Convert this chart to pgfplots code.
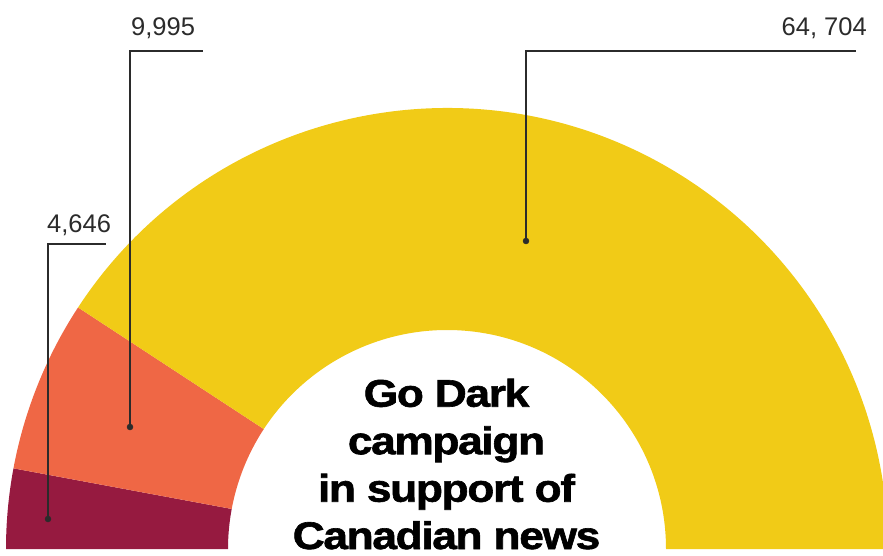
\documentclass[border=0pt]{standalone}
\usepackage{fontspec}
\setmainfont{Liberation Sans}
\newfontfamily\titlefont{Liberation Sans Bold}[FakeStretch=1.15, FakeBold=1.6, LetterSpace=-3.5]
\usepackage{pgfplots}
\pgfplotsset{compat=1.18}
\usepackage{pgfplotstable}
\definecolor{cMaroon}{HTML}{961A40}
\definecolor{cOrange}{HTML}{EF6745}
\definecolor{cYellow}{HTML}{F1CB17}
\definecolor{cLine}{HTML}{2B2B2B}

\pgfplotstableread{
label value
A 4646
B 9995
C 64704
}\datatable

\begin{document}
\begin{tikzpicture}
\pgfplotstablegetelem{0}{value}\of\datatable \let\va\pgfplotsretval
\pgfplotstablegetelem{1}{value}\of\datatable \let\vb\pgfplotsretval
\pgfplotstablegetelem{2}{value}\of\datatable \let\vc\pgfplotsretval
\pgfkeys{/pgf/fpu=true,/pgf/fpu/output format=fixed}
\pgfmathsetmacro\aA{180-180*\va/(\va+\vb+\vc)}
\pgfmathsetmacro\aB{\aA-180*\vb/(\va+\vb+\vc)}
\pgfkeys{/pgf/fpu=false}
\def\cx{447}\def\cy{6}\def\Ro{441}\def\Ri{219}
\begin{axis}[name=ax, x=1pt, y=1pt, xmin=0, xmax=883, ymin=0, ymax=555,
  hide axis, clip=false]
% wedges
\fill[cMaroon] (axis cs:{\cx-\Ro},\cy) arc[start angle=180, end angle=\aA, radius=\Ro pt]
  -- (axis cs:{\cx+\Ri*cos(\aA)},{\cy+\Ri*sin(\aA)}) arc[start angle=\aA, end angle=180, radius=\Ri pt] -- cycle;
\fill[cOrange] (axis cs:{\cx+\Ro*cos(\aA)},{\cy+\Ro*sin(\aA)}) arc[start angle=\aA, end angle=\aB, radius=\Ro pt]
  -- (axis cs:{\cx+\Ri*cos(\aB)},{\cy+\Ri*sin(\aB)}) arc[start angle=\aB, end angle=\aA, radius=\Ri pt] -- cycle;
\fill[cYellow] (axis cs:{\cx+\Ro*cos(\aB)},{\cy+\Ro*sin(\aB)}) arc[start angle=\aB, end angle=0, radius=\Ro pt]
  -- (axis cs:{\cx+\Ri},\cy) arc[start angle=0, end angle=\aB, radius=\Ri pt] -- cycle;
% leader lines
\addplot[cLine, line width=1.4pt, mark=none] coordinates {(48,36) (48,311) (106,311)};
\addplot[cLine, line width=1.4pt, mark=none] coordinates {(130,128) (130,504) (203,504)};
\addplot[cLine, line width=1.4pt, mark=none] coordinates {(526,314) (526,504) (856,504)};
\addplot[only marks, mark=*, mark size=3pt, cLine] coordinates {(48,36) (130,128) (526,314)};
% labels
\node[anchor=base west, inner sep=0pt, text=cLine, font=\fontsize{25.5}{30}\selectfont] at (axis cs:47,323) {4,646};
\node[anchor=base west, inner sep=0pt, text=cLine, font=\fontsize{25.5}{30}\selectfont] at (axis cs:131,519) {9,995};
\node[anchor=base east, inner sep=0pt, text=cLine, font=\fontsize{25.5}{30}\selectfont] at (axis cs:867,519) {64, 704};
% centre title
\node[anchor=base, inner sep=0pt, font=\titlefont\fontsize{38.5}{47.5}\selectfont] at (axis cs:446.5,148.3) {Go Dark};
\node[anchor=base, inner sep=0pt, font=\titlefont\fontsize{38.5}{47.5}\selectfont] at (axis cs:446.5,100.8) {campaign};
\node[anchor=base, inner sep=0pt, font=\titlefont\fontsize{38.5}{47.5}\selectfont] at (axis cs:446.5,53.3) {in support of};
\node[anchor=base, inner sep=0pt, font=\titlefont\fontsize{38.5}{47.5}\selectfont] at (axis cs:446.5,6) {Canadian news};
\end{axis}
\pgfresetboundingbox
\useasboundingbox (ax.south west) rectangle (ax.north east);
\end{tikzpicture}
\end{document}
